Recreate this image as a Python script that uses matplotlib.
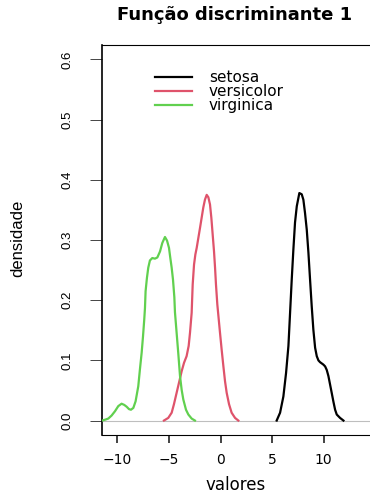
import matplotlib
matplotlib.use("Agg")
import matplotlib.pyplot as plt

# Werte (Dichte der 1. Diskriminanzfunktion)
setosa_x = [5.45, 5.78, 6.10, 6.36, 6.59, 6.75, 6.91, 7.07, 7.23, 7.40, 7.65, 7.88,
            8.04, 8.20, 8.37, 8.53, 8.69, 8.85, 9.01, 9.18, 9.34, 9.50, 9.66, 9.98,
            10.15, 10.31, 10.47, 10.63, 10.79, 10.96, 11.12, 11.28, 11.60, 11.93]
setosa_y = [0.0, 0.013, 0.040, 0.079, 0.124, 0.179, 0.234, 0.284, 0.329, 0.356, 0.378, 0.376,
            0.367, 0.345, 0.317, 0.279, 0.234, 0.190, 0.151, 0.121, 0.107, 0.100, 0.097, 0.093,
            0.090, 0.084, 0.074, 0.060, 0.046, 0.031, 0.018, 0.010, 0.0044, 0.0]

versicolor_x = [-5.49, -5.07, -4.74, -4.52, -4.26, -4.00, -3.77, -3.54, -3.29, -3.09,
                -2.96, -2.80, -2.70, -2.57, -2.44, -2.31, -1.99, -1.67, -1.51, -1.34,
                -1.18, -1.02, -0.89, -0.76, -0.63, -0.53, -0.44, -0.31, -0.05, 0.11,
                0.28, 0.44, 0.60, 0.83, 1.08, 1.41, 1.73]
versicolor_y = [0.0, 0.0044, 0.013, 0.027, 0.046, 0.065, 0.082, 0.096, 0.107, 0.124,
                0.146, 0.179, 0.226, 0.259, 0.276, 0.287, 0.320, 0.354, 0.367, 0.375,
                0.371, 0.359, 0.337, 0.309, 0.281, 0.254, 0.226, 0.193, 0.146, 0.118,
                0.090, 0.065, 0.046, 0.027, 0.013, 0.0044, 0.0]

virginica_x = [-11.47, -11.15, -10.89, -10.57, -10.24, -9.92, -9.60, -9.34, -9.11, -8.88,
               -8.69, -8.46, -8.24, -7.98, -7.82, -7.65, -7.52, -7.40, -7.33, -7.27,
               -7.14, -7.01, -6.85, -6.62, -6.36, -6.13, -5.87, -5.65, -5.39, -5.19,
               -5.00, -4.87, -4.74, -4.61, -4.48, -4.42, -4.26, -4.09, -3.93, -3.77,
               -3.61, -3.35, -3.12, -2.80, -2.48]
virginica_y = [0.0, 0.0017, 0.0033, 0.0083, 0.0155, 0.024, 0.028, 0.026, 0.023, 0.019,
               0.018, 0.021, 0.032, 0.057, 0.085, 0.113, 0.140, 0.168, 0.187, 0.215,
               0.237, 0.254, 0.266, 0.270, 0.269, 0.271, 0.281, 0.295, 0.305, 0.299,
               0.287, 0.270, 0.254, 0.234, 0.205, 0.180, 0.146, 0.110, 0.074, 0.051,
               0.035, 0.018, 0.010, 0.0033, 0.0]

especies = ["setosa", "versicolor", "virginica"]
cores = ["black", "#DF536B", "#61D04F"]
x_ticks = [-10, -5, 0, 5, 10]
y_ticks = [0.0, 0.1, 0.2, 0.3, 0.4, 0.5, 0.6]

W, H = 370, 495
fig = plt.figure(figsize=(W / 100, H / 100), dpi=100)
ax = fig.add_axes([102 / W, 1 - 435 / H, (372 - 102) / W, (435 - 45) / H])

ax.axhline(0, color="#BEBEBE", lw=0.8, zorder=1)
linhas = []
for xs, ys, cor in zip([setosa_x, versicolor_x, virginica_x],
                       [setosa_y, versicolor_y, virginica_y], cores):
    l, = ax.plot(xs, ys, color=cor, lw=1.6, solid_joinstyle="round", zorder=3)
    linhas.append(l)

ax.set_xlim(-11.5, 14.7)
ax.set_ylim(-0.024, 0.624)
ax.set_xticks(x_ticks)
ax.set_xticklabels(["\u221210", "\u22125", "0", "5", "10"])
ax.set_yticks(y_ticks)
ax.set_yticklabels([f"{v:.1f}" for v in y_ticks])

for lab in ax.get_xticklabels():
    lab.set_fontfamily("DejaVu Sans")
    lab.set_fontsize(10)
for lab in ax.get_yticklabels():
    lab.set_fontfamily("Liberation Sans")
    lab.set_fontsize(9.5)
    lab.set_rotation(90)
    lab.set_va("center")

ax.tick_params(axis="x", length=5.4, width=1.2, pad=7.5, color="#222222")
ax.tick_params(axis="y", length=8.6, width=0.7, pad=12, color="#444444")
ax.spines["left"].set_linewidth(1.2)
for s in ["top", "bottom", "right"]:
    ax.spines[s].set_linewidth(0.8)

ax.legend(linhas, especies, loc="upper left", bbox_to_anchor=(155 / W, 1 - 70 / H),
          bbox_transform=fig.transFigure, frameon=False, borderpad=0, borderaxespad=0,
          handlelength=2.42, handletextpad=1.1, labelspacing=-0.05,
          prop={"family": "DejaVu Sans", "size": 11})

fig.text(235 / W, 1 - 20 / H, "Função discriminante 1", ha="center", va="baseline",
         fontsize=13, fontweight="bold", family="DejaVu Sans")
fig.text(236 / W, 1 - 490 / H, "valores", ha="center", va="baseline",
         fontsize=12, family="DejaVu Sans")
fig.text(18 / W, 1 - 238.5 / H, "densidade", ha="center", va="center", rotation=90,
         fontsize=12, family="Liberation Sans")

fig.savefig("out.png", dpi=100)
